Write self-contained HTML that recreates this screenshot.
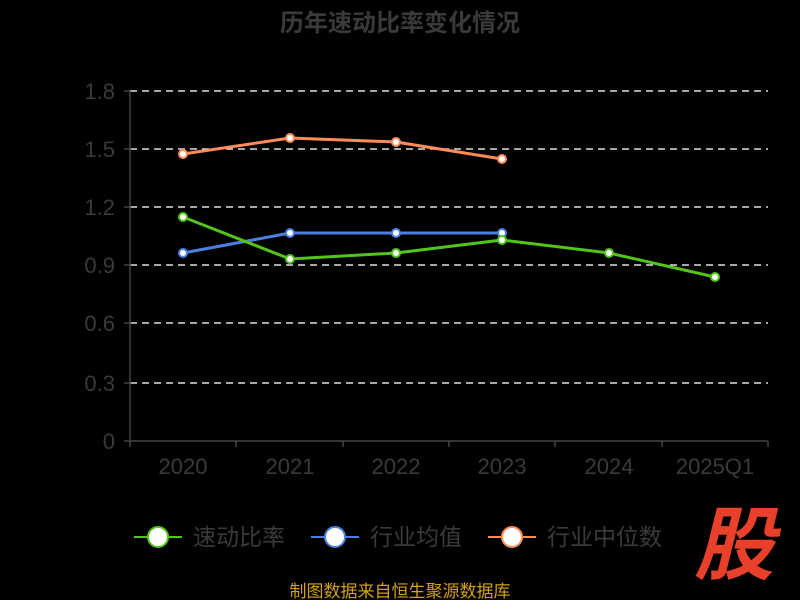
<!DOCTYPE html>
<html><head><meta charset="utf-8"><style>
html,body{margin:0;padding:0;background:#000;}
svg{display:block;}
text{font-family:"Liberation Sans","Noto Sans CJK SC",sans-serif;}
</style></head><body>
<svg width="800" height="600" viewBox="0 0 800 600" xmlns="http://www.w3.org/2000/svg">
<rect width="800" height="600" fill="#000"/>
<text x="400" y="31" text-anchor="middle" font-size="24" font-weight="bold" fill="#3a3a3a">历年速动比率变化情况</text>
<g stroke="#ddd" stroke-width="1.5" stroke-dasharray="7,5">
<line x1="130" y1="91" x2="768" y2="91"/>
<line x1="130" y1="149" x2="768" y2="149"/>
<line x1="130" y1="207" x2="768" y2="207"/>
<line x1="130" y1="265" x2="768" y2="265"/>
<line x1="130" y1="323" x2="768" y2="323"/>
<line x1="130" y1="383" x2="768" y2="383"/>
</g>
<g stroke="#444" stroke-width="1.5">
<line x1="130" y1="91" x2="130" y2="441"/>
<line x1="130" y1="441" x2="768" y2="441"/>
<line x1="130" y1="441" x2="130" y2="447"/><line x1="236" y1="441" x2="236" y2="447"/>
<line x1="343" y1="441" x2="343" y2="447"/><line x1="449" y1="441" x2="449" y2="447"/>
<line x1="555" y1="441" x2="555" y2="447"/><line x1="662" y1="441" x2="662" y2="447"/>
<line x1="768" y1="441" x2="768" y2="447"/>
<line x1="124" y1="91" x2="130" y2="91"/><line x1="124" y1="149" x2="130" y2="149"/>
<line x1="124" y1="207" x2="130" y2="207"/><line x1="124" y1="265" x2="130" y2="265"/>
<line x1="124" y1="323" x2="130" y2="323"/><line x1="124" y1="383" x2="130" y2="383"/>
<line x1="124" y1="441" x2="130" y2="441"/>
</g>
<g font-size="22" fill="#3a3a3a" text-anchor="end">
<text x="115" y="99">1.8</text><text x="115" y="157">1.5</text><text x="115" y="215">1.2</text>
<text x="115" y="273">0.9</text><text x="115" y="331">0.6</text><text x="115" y="391">0.3</text>
<text x="115" y="449">0</text>
</g>
<g font-size="22" fill="#3a3a3a" text-anchor="middle">
<text x="183" y="474">2020</text><text x="290" y="474">2021</text><text x="396" y="474">2022</text>
<text x="502" y="474">2023</text><text x="609" y="474">2024</text><text x="715" y="474">2025Q1</text>
</g>
<g fill="none" stroke-width="3" stroke-linejoin="round">
<polyline stroke="#ff8c5a" points="183,154 290,138 396,142 502,159"/>
<polyline stroke="#4a80e0" points="183,253 290,233 396,233 502,233"/>
<polyline stroke="#52c41a" points="183,217 290,259 396,253 502,240 609,253 715,277"/>
</g>
<g fill="#fff" stroke-width="2">
<g stroke="#ff8c5a"><circle cx="183" cy="154" r="4"/><circle cx="290" cy="138" r="4"/><circle cx="396" cy="142" r="4"/><circle cx="502" cy="159" r="4"/></g>
<g stroke="#4a80e0"><circle cx="183" cy="253" r="4"/><circle cx="290" cy="233" r="4"/><circle cx="396" cy="233" r="4"/><circle cx="502" cy="233" r="4"/></g>
<g stroke="#52c41a"><circle cx="183" cy="217" r="4"/><circle cx="290" cy="259" r="4"/><circle cx="396" cy="253" r="4"/><circle cx="502" cy="240" r="4"/><circle cx="609" cy="253" r="4"/><circle cx="715" cy="277" r="4"/></g>
</g>
<g stroke-width="2">
<line x1="134" y1="537" x2="182" y2="537" stroke="#52c41a"/><circle cx="158" cy="537" r="10" fill="#fff" stroke="#52c41a"/>
<line x1="311" y1="537" x2="359" y2="537" stroke="#4a80e0"/><circle cx="335" cy="537" r="10" fill="#fff" stroke="#4a80e0"/>
<line x1="488" y1="537" x2="536" y2="537" stroke="#ff8c5a"/><circle cx="512" cy="537" r="10" fill="#fff" stroke="#ff8c5a"/>
</g>
<g font-size="23" fill="#3a3a3a">
<text x="193" y="545">速动比率</text><text x="370" y="545">行业均值</text><text x="547" y="545">行业中位数</text>
</g>
<text x="400" y="597" text-anchor="middle" font-size="17" fill="#d4a017">制图数据来自恒生聚源数据库</text>
<text x="734" y="573" text-anchor="middle" font-size="80" font-weight="bold" font-style="italic" fill="#e8402a">股</text>
</svg>
</body></html>
